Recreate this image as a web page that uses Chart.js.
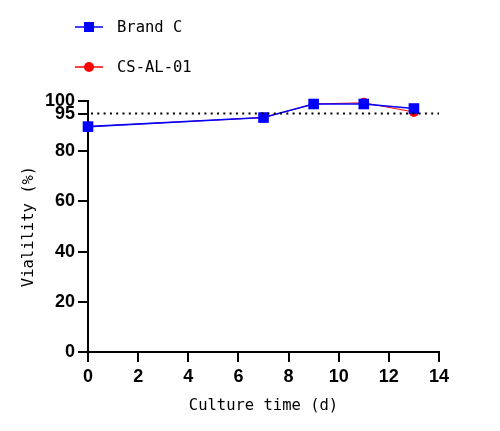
<!DOCTYPE html>
<html>
<head>
<meta charset="utf-8">
<script src="https://cdn.jsdelivr.net/npm/chart.js@4.4.1/dist/chart.umd.min.js"></script>
<style>
html,body{margin:0;padding:0;background:#fff;}
#wrap{width:500px;height:431px;position:relative;}
</style>
</head>
<body>
<div id="wrap"><canvas id="c"></canvas></div>
<script>
const seriesNames = ["Brand C", "CS-AL-01"];
const days = [0, 7, 9, 11, 13];
const brandC = [89.8, 93.4, 98.8, 98.8, 97.0];
const csAl01 = [89.8, 93.4, 98.8, 99.3, 95.6];
const yTickValues = [0, 20, 40, 60, 80, 95, 100];
const referenceLine = 95;

const tickFont = {family: "'Liberation Sans Narrow', 'Liberation Sans', Arial, sans-serif", size: 18, weight: 'bold'};
const titleFont = {family: "'DejaVu Sans Mono', monospace", size: 15.5};

const refLinePlugin = {
  id: 'refLine',
  afterDatasetsDraw(chart) {
    const {ctx, chartArea, scales} = chart;
    const y = scales.y.getPixelForValue(referenceLine);
    ctx.save();
    ctx.strokeStyle = '#000';
    ctx.lineWidth = 2;
    ctx.setLineDash([2, 4.3]);
    ctx.beginPath();
    ctx.moveTo(chartArea.left + 3, y);
    ctx.lineTo(chartArea.right, y);
    ctx.stroke();
    ctx.restore();
  }
};

const legendPlugin = {
  id: 'vlegend',
  afterDraw(chart) {
    const {ctx} = chart;
    ctx.save();
    chart.data.datasets.forEach((ds, i) => {
      const y = 27 + i * 40;
      ctx.strokeStyle = ds.borderColor;
      ctx.lineWidth = 1.5;
      ctx.beginPath();
      ctx.moveTo(75, y);
      ctx.lineTo(103, y);
      ctx.stroke();
      ctx.fillStyle = ds.pointBackgroundColor;
      if (ds.pointStyle === 'rect') {
        ctx.fillRect(89 - 5, y - 5, 10, 10);
      } else {
        ctx.beginPath();
        ctx.arc(89, y, 5, 0, Math.PI * 2);
        ctx.fill();
      }
      ctx.fillStyle = '#000';
      ctx.font = titleFont.size + 'px ' + titleFont.family;
      ctx.textBaseline = 'middle';
      ctx.textAlign = 'left';
      ctx.fillText(ds.label, 117, y + 1);
    });
    ctx.restore();
  }
};

new Chart(document.getElementById('c'), {
  type: 'line',
  data: {
    datasets: [
      {
        label: seriesNames[0],
        data: days.map((d, i) => ({x: d, y: brandC[i]})),
        borderColor: '#0000ff',
        backgroundColor: '#0000ff',
        pointBackgroundColor: '#0000ff',
        pointBorderColor: '#0000ff',
        pointStyle: 'rect',
        pointRadius: 7.5,
        borderWidth: 1.6,
        pointBorderWidth: 0,
        tension: 0
      },
      {
        label: seriesNames[1],
        data: days.map((d, i) => ({x: d, y: csAl01[i]})),
        borderColor: '#ff0000',
        backgroundColor: '#ff0000',
        pointBackgroundColor: '#ff0000',
        pointBorderColor: '#ff0000',
        pointStyle: 'circle',
        pointRadius: 5,
        borderWidth: 1,
        pointBorderWidth: 0,
        tension: 0
      }
    ]
  },
  options: {
    responsive: true,
    maintainAspectRatio: false,
    animation: false,
    clip: false,
    layout: {padding: {top: 101, right: 61, bottom: 0, left: 0}},
    plugins: {legend: {display: false}, tooltip: {enabled: false}},
    scales: {
      x: {
        type: 'linear',
        min: 0, max: 14,
        ticks: {stepSize: 2, color: '#000', font: tickFont, padding: 4, maxRotation: 0},
        grid: {display: true, drawOnChartArea: false, drawTicks: true, tickLength: 10, color: '#000', lineWidth: 2},
        border: {display: true, color: '#000', width: 2},
        title: {display: true, text: 'Culture time (d)', color: '#000', font: titleFont, padding: {top: 0, bottom: 16}},
        afterFit(scale) { scale.height = 79; }
      },
      y: {
        type: 'linear',
        min: 0, max: 100,
        afterBuildTicks(scale) { scale.ticks = yTickValues.map(v => ({value: v})); },
        ticks: {color: '#000', font: tickFont, padding: 3, autoSkip: false},
        grid: {display: true, drawOnChartArea: false, drawTicks: true, tickLength: 10, color: '#000', lineWidth: 2},
        border: {display: true, color: '#000', width: 2},
        title: {display: true, text: 'Vialility (%)', color: '#000', font: titleFont, padding: {top: 20, bottom: 0}},
        afterFit(scale) { scale.width = 88; }
      }
    }
  },
  plugins: [refLinePlugin, legendPlugin]
});
</script>
</body>
</html>
